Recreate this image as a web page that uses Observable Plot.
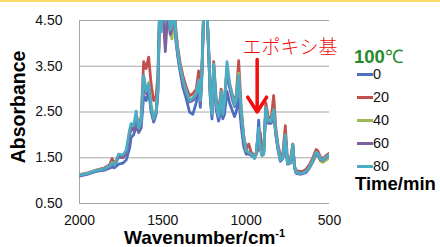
<!DOCTYPE html>
<html><head><meta charset="utf-8">
<script src="https://cdn.jsdelivr.net/npm/d3@7"></script>
<script src="https://cdn.jsdelivr.net/npm/@observablehq/plot@0.6"></script>
<style>
body{margin:0;background:#fff;}
#wrap{position:relative;width:440px;height:247px;overflow:hidden;background:#fff;font-family:"Liberation Sans",Arial,sans-serif;}
.abs{position:absolute;white-space:nowrap;line-height:1;}
</style></head>
<body>
<div id="wrap">
  <div id="chart"></div>
</div>
<script>
// Data
const wavenumbers = [2000,1950,1900,1850,1820,1805,1790,1765,1740,1720,1700,1690,1675,1660,1645,1630,1615,1600,1585,1570,1555,1540,1530,1520,1510,1500,1485,1470,1455,1445,1432,1420,1410,1395,1380,1360,1340,1320,1300,1285,1275,1265,1255,1235,1225,1215,1205,1195,1180,1165,1150,1140,1130,1115,1100,1085,1070,1060,1045,1030,1015,1000,985,970,950,940,932,925,915,905,895,882,868,850,835,822,810,795,780,765,752,735,720,710,700,680,660,640,620,600,580,570,555,540,520,500];
const t0  = [1.10,1.14,1.20,1.23,1.27,1.30,1.28,1.36,1.38,1.45,1.70,1.95,2.00,2.20,2.05,2.15,2.85,2.75,2.95,2.50,2.28,2.45,2.90,4.60,4.60,4.70,4.30,4.70,4.40,4.40,4.70,4.00,3.70,3.35,3.05,2.80,2.50,2.45,2.70,3.05,2.60,3.30,4.70,4.70,3.80,2.80,2.35,3.40,2.55,2.30,2.60,2.35,2.45,2.95,2.70,2.55,2.40,2.50,2.80,2.20,1.75,1.58,1.58,1.55,1.50,1.58,1.90,2.32,1.75,1.58,1.60,2.55,2.25,2.25,2.45,2.00,1.70,1.42,1.48,1.95,1.36,1.38,1.75,1.28,1.16,1.14,1.15,1.18,1.28,1.42,1.60,1.58,1.45,1.42,1.48,1.55];
const t20 = [1.13,1.17,1.23,1.28,1.34,1.48,1.38,1.52,1.50,1.60,2.00,2.15,2.10,2.40,2.15,2.40,3.60,3.45,3.70,3.10,2.75,2.85,3.30,4.60,4.60,4.70,4.60,4.70,4.60,4.60,4.70,4.25,3.90,3.55,3.30,3.05,2.85,2.90,3.00,3.40,2.90,3.50,4.70,4.70,3.90,2.95,2.55,3.60,2.80,2.50,3.00,2.55,2.80,3.45,3.10,2.90,2.75,2.85,3.62,2.60,2.00,1.68,1.80,1.62,1.55,1.58,1.65,1.75,2.05,1.60,1.62,2.70,2.40,2.35,2.86,2.15,1.80,1.55,1.60,2.20,1.45,1.45,1.80,1.32,1.22,1.20,1.20,1.25,1.35,1.50,1.68,1.65,1.52,1.48,1.55,1.60];
const t40 = [1.12,1.16,1.22,1.26,1.31,1.40,1.34,1.55,1.52,1.62,2.05,2.20,2.15,2.45,2.10,2.30,3.25,2.95,3.15,2.65,2.40,2.55,3.00,4.60,4.50,4.70,4.30,4.70,4.20,4.10,4.70,4.10,3.80,3.45,3.20,2.95,2.75,2.80,2.90,3.15,2.75,3.40,4.70,4.70,3.80,2.85,2.45,3.50,2.70,2.42,2.90,2.50,2.70,3.50,3.10,2.85,2.70,2.80,3.35,2.50,1.95,1.65,1.62,1.58,1.52,1.60,1.85,2.05,1.70,1.55,1.58,2.60,2.30,2.30,2.55,2.05,1.75,1.45,1.50,2.00,1.38,1.40,1.78,1.30,1.18,1.16,1.16,1.20,1.28,1.40,1.56,1.55,1.43,1.40,1.45,1.50];
const t60 = [1.11,1.15,1.21,1.25,1.30,1.37,1.33,1.52,1.50,1.60,2.00,2.15,2.10,2.38,2.08,2.25,3.10,2.90,3.05,2.55,2.32,2.48,2.95,4.60,4.40,4.70,3.82,4.70,4.20,4.30,4.70,4.05,3.75,3.40,3.15,2.90,2.72,2.75,2.85,3.10,2.70,3.40,4.70,4.70,3.80,2.80,2.42,3.50,2.65,2.38,2.85,2.45,2.65,3.40,3.05,2.80,2.62,2.72,3.25,2.45,1.90,1.62,1.60,1.57,1.50,1.58,1.85,2.10,1.72,1.55,1.58,2.58,2.28,2.28,2.50,2.02,1.72,1.44,1.50,1.98,1.37,1.40,1.76,1.30,1.17,1.15,1.16,1.19,1.29,1.43,1.60,1.58,1.46,1.44,1.50,1.56];
const t80 = [1.12,1.16,1.22,1.26,1.32,1.38,1.34,1.58,1.56,1.66,2.10,2.25,2.20,2.52,2.15,2.30,3.30,2.95,3.10,2.60,2.35,2.50,3.00,4.60,4.25,4.70,4.50,4.70,4.30,4.40,4.70,4.10,3.80,3.45,3.20,2.95,2.75,2.80,2.90,3.20,2.75,3.40,4.70,4.70,3.85,2.85,2.45,3.55,2.70,2.40,2.95,2.45,2.70,3.60,3.15,2.90,2.65,2.75,3.30,2.50,1.95,1.65,1.62,1.58,1.48,1.60,1.90,2.15,1.70,1.55,1.58,2.60,2.30,2.30,2.55,2.05,1.75,1.45,1.50,2.00,1.38,1.40,1.78,1.30,1.18,1.16,1.17,1.20,1.30,1.45,1.62,1.60,1.48,1.45,1.52,1.58];
const seriesNames = ["0","20","40","60","80"];
const seriesValues = [t0, t20, t40, t60, t80];
const seriesColors = ["#4A70BE","#C0504D","#9BBB59","#7D60A0","#4BACC6"];
const yTicks = [0.5,1.5,2.5,3.5,4.5];
const xTicks = [2000,1500,1000,500];
const legendTitle = "100℃";
const legendFooter = "Time/min";
const yTitle = "Absorbance";
const xTitle = "Wavenumber/cm";
const annotation = [{x: 737, y: 3.90, text: "エポキシ基"}];
const arrow = [{x1: 934, y1: 3.65, x2: 934, y2: 2.50}];

const rows = [];
seriesNames.forEach((s, i) => wavenumbers.forEach((w, j) => rows.push({series: s, wn: w, a: seriesValues[i][j]})));

const chart = Plot.plot({
  width: 440, height: 247,
  marginLeft: 79, marginRight: 111, marginTop: 20, marginBottom: 44,
  style: {fontFamily: "'Liberation Sans', Arial, sans-serif", fontSize: "14px", color: "#000", background: "#fff", overflow: "visible"},
  x: {domain: [2000, 500], ticks: xTicks, tickFormat: d3.format("d")},
  y: {domain: [0.5, 4.5], ticks: yTicks, tickFormat: d3.format(".2f")},
  color: {domain: seriesNames, range: seriesColors},
  marks: [
    Plot.gridY(yTicks, {stroke: "#A6A6A6", strokeOpacity: 1, strokeWidth: 1}),
    Plot.ruleX([2000], {stroke: "#A6A6A6", strokeWidth: 1}),
    Plot.axisY({ticks: yTicks, tickSize: 0, tickPadding: 17, label: null, tickFormat: d3.format(".2f"), fill: "#111"}),
    Plot.axisX({ticks: xTicks, tickSize: 0, tickPadding: 12, label: null, tickFormat: d3.format("d"), fill: "#111"}),
    Plot.line(rows, {x: "wn", y: "a", z: "series", stroke: "series", strokeWidth: 2.8, curve: "linear", clip: true, strokeLinejoin: "round"}),
    Plot.text(annotation, {x: "x", y: "y", text: "text", fill: "#F01010", fontSize: 19, fontFamily: "'Noto Sans CJK JP', sans-serif", fontWeight: 300}),
    Plot.arrow(arrow, {x1: "x1", y1: "y1", x2: "x2", y2: "y2", stroke: "#F01010", strokeWidth: 3.5, headLength: 15, headAngle: 65})
  ]
});
document.getElementById("chart").appendChild(chart);

const wrap = document.getElementById("wrap");
function add(html, css) {
  const d = document.createElement("div");
  d.className = "abs";
  d.innerHTML = html;
  Object.assign(d.style, css);
  wrap.appendChild(d);
  return d;
}
// top yellow border
add("", {left: "0px", top: "0px", width: "440px", height: "1.5px", background: "#FFD966"});
// axis titles
add(yTitle, {left: "-38px", top: "107px", fontSize: "19.5px", fontWeight: "bold", transform: "translate(0,-50%) rotate(-90deg)", transformOrigin: "center"});
add(xTitle + "<sup style='font-size:11px;vertical-align:7px'>-1</sup>", {left: "124px", top: "228px", fontSize: "19px", fontWeight: "bold"});
// legend
add(legendTitle.replace("100", "<b>100</b>"), {left: "354px", top: "48px", fontSize: "18.5px", color: "#2A8A2A"});
const ly = [74, 97, 120, 143, 166];
seriesNames.forEach((s, i) => {
  add("", {left: "357px", top: (ly[i] - 1.5) + "px", width: "16px", height: "3px", background: seriesColors[i]});
  add(s, {left: "373px", top: (ly[i] - 7) + "px", fontSize: "14.5px", color: "#111"});
});
add(legendFooter, {left: "355px", top: "175px", fontSize: "18.5px", fontWeight: "bold"});
</script>
</body></html>
